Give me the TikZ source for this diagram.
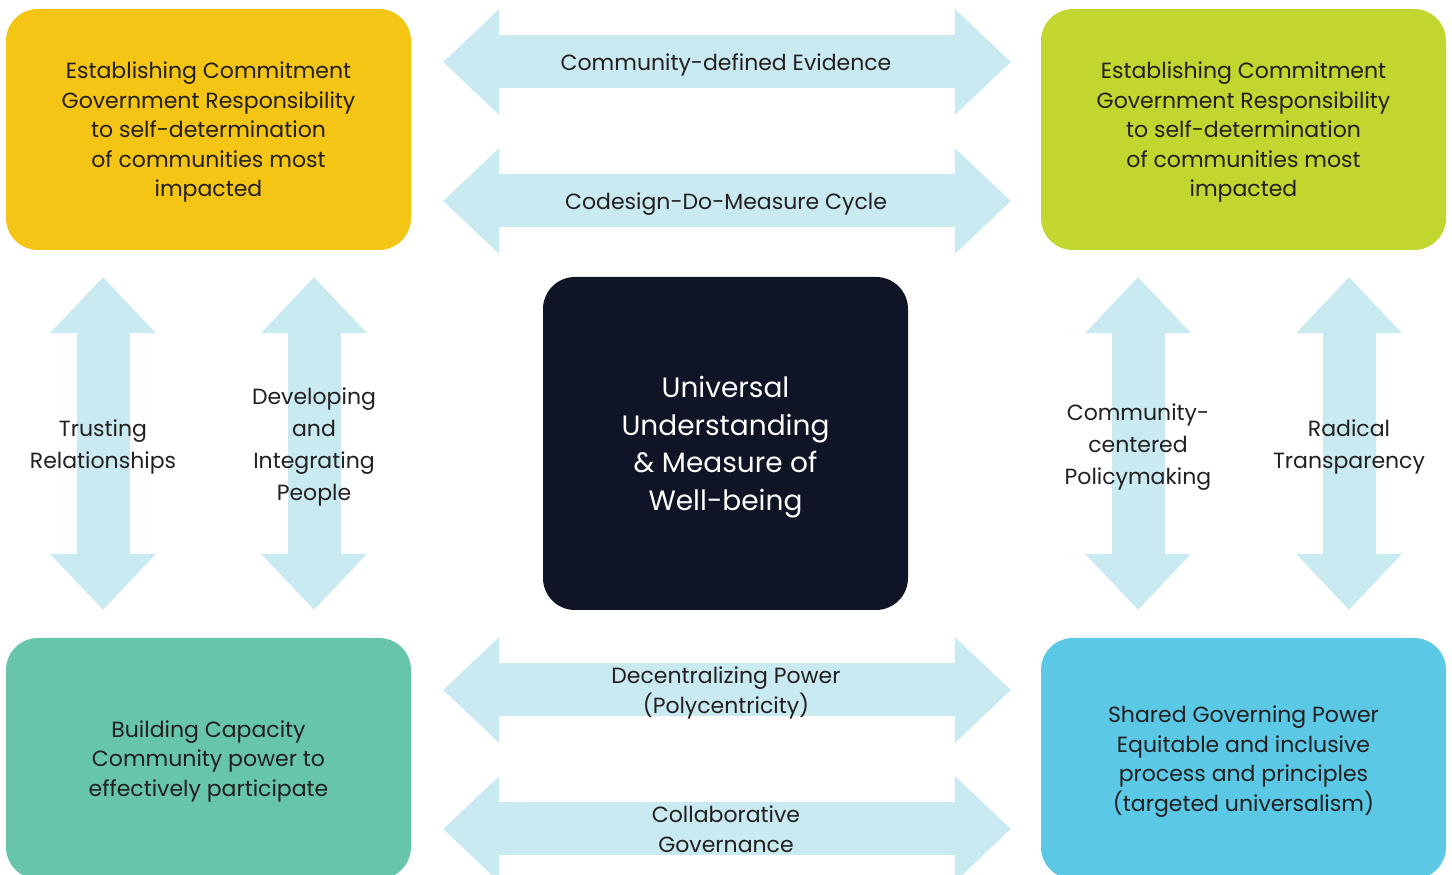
\documentclass[tikz,border=0pt]{standalone}
\usepackage{fontspec}
\setmainfont{Poppins}
\usetikzlibrary{arrows.meta}
\definecolor{boxyellow}{HTML}{F4C515}
\definecolor{boxgreen}{HTML}{C3D62F}
\definecolor{boxteal}{HTML}{66C5AB}
\definecolor{boxblue}{HTML}{5BC8E5}
\definecolor{boxdark}{HTML}{0F1526}
\definecolor{arrowblue}{HTML}{C9EAF1}
\definecolor{txt}{HTML}{231F20}
\tikzset{
  box/.style={rounded corners=32pt, minimum width=405pt, minimum height=241pt,
    align=center, text=txt, text depth=0pt, font=\fontsize{22}{29.5}\selectfont},
  fatarrow/.style={draw=arrowblue, line width=53pt, {Triangle[length=56pt,width=106pt,line width=0pt]}-{Triangle[length=56pt,width=106pt,line width=0pt]}},
  lbl/.style={align=center, text=txt, text depth=0pt, font=\fontsize{22}{30}\selectfont},
  vlbl/.style={lbl, font=\fontsize{22}{32}\selectfont},
}
\begin{document}
\begin{tikzpicture}[x=1pt,y=1pt]
  \useasboundingbox (0,0) rectangle (1452,875);
  % corner boxes
  \node[box, fill=boxyellow] at (208.5,745.5) (commitL) {Establishing Commitment\\Government Responsibility\\to self-determination\\of communities most\\impacted};
  \node[box, fill=boxgreen] at (1243.5,745.5) (commitR) {Establishing Commitment\\Government Responsibility\\to self-determination\\of communities most\\impacted};
  \node[box, fill=boxteal] at (208.5,116.5) (capacity) {Building Capacity\\Community power to\\effectively participate};
  \node[box, fill=boxblue] at (1243.5,116.5) (sharedpower) {Shared Governing Power\\Equitable and inclusive\\process and principles\\(targeted universalism)};
  % centre
  \node[box, fill=boxdark, text=white, minimum width=365pt, minimum height=333pt,
    font=\fontsize{28}{37.5}\selectfont] at (725.5,431.5) (wellbeing) {Universal\\Understanding\\\& Measure of\\Well-being};
  % horizontal arrows
  \draw[fatarrow, shorten <=32pt, shorten >=30pt] ([yshift=67.5pt]commitL.east) -- ([yshift=67.5pt]commitR.west)
    node[midway, lbl] {Community-defined Evidence};
  \draw[fatarrow, shorten <=32pt, shorten >=30pt] ([yshift=-71.5pt]commitL.east) -- ([yshift=-71.5pt]commitR.west)
    node[midway, lbl] {Codesign-Do-Measure Cycle};
  \draw[fatarrow, shorten <=32pt, shorten >=30pt] ([yshift=68.5pt]capacity.east) -- ([yshift=68.5pt]sharedpower.west)
    node[midway, lbl] {Decentralizing Power\\(Polycentricity)};
  \draw[fatarrow, shorten <=32pt, shorten >=30pt] ([yshift=-70.5pt]capacity.east) -- ([yshift=-70.5pt]sharedpower.west)
    node[midway, lbl] {Collaborative\\Governance};
  % vertical arrows
  \draw[fatarrow, shorten <=27pt, shorten >=28pt] ([xshift=-105.5pt]commitL.south) -- ([xshift=-105.5pt]capacity.north)
    node[midway, vlbl] {Trusting\\Relationships};
  \draw[fatarrow, shorten <=27pt, shorten >=28pt] ([xshift=105.5pt]commitL.south) -- ([xshift=105.5pt]capacity.north)
    node[midway, vlbl] {Developing\\and\\Integrating\\People};
  \draw[fatarrow, shorten <=27pt, shorten >=28pt] ([xshift=-105.5pt]commitR.south) -- ([xshift=-105.5pt]sharedpower.north)
    node[midway, vlbl] {Community-\\centered\\Policymaking};
  \draw[fatarrow, shorten <=27pt, shorten >=28pt] ([xshift=105.5pt]commitR.south) -- ([xshift=105.5pt]sharedpower.north)
    node[midway, vlbl] {Radical\\Transparency};
\end{tikzpicture}
\end{document}
